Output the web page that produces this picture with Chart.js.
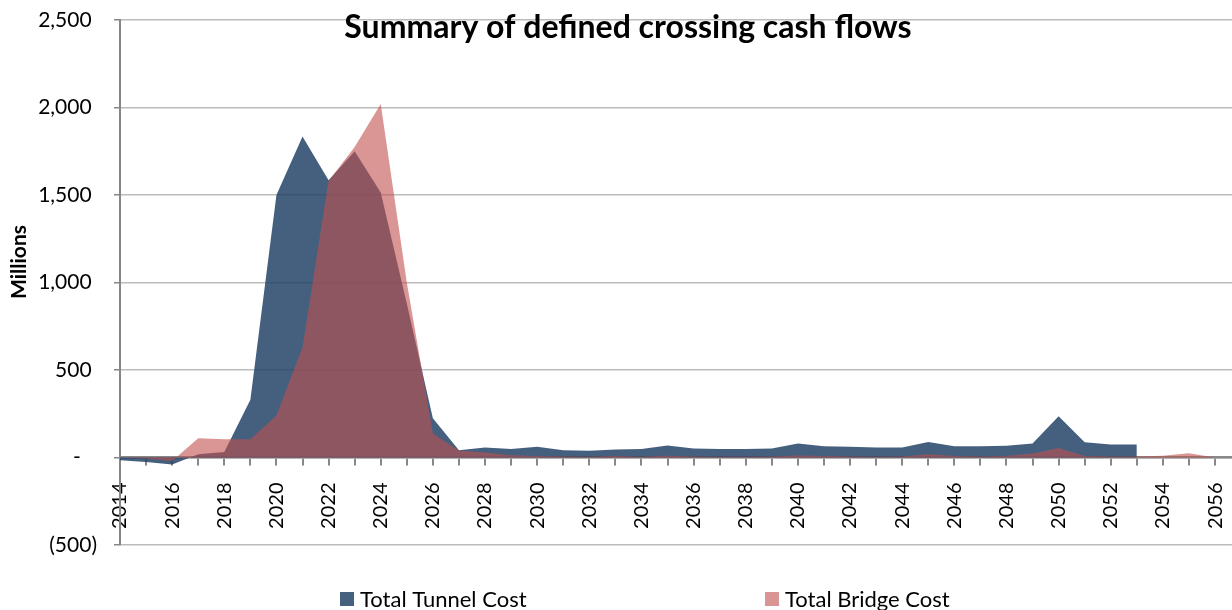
<!DOCTYPE html>
<html>
<head>
<meta charset="utf-8">
<script src="https://cdn.jsdelivr.net/npm/chart.js@4"></script>
<style>
  html, body { margin: 0; padding: 0; background: #fff; overflow: hidden; }
  #wrap { width: 1232px; height: 610px; }
</style>
</head>
<body>
<div id="wrap"><canvas id="myChart" width="1232" height="610"></canvas></div>
<script>
var years = [];
for (var y = 2014; y <= 2056; y++) { years.push(y); }

// Total Tunnel Cost, 2014 - 2053
var tunnelCost = [-15, -25, -40, 18, 32, 330, 1500, 1835, 1585, 1750,
  1515, 880, 225, 42, 57, 48, 61, 42, 38, 46,
  48, 68, 51, 49, 49, 51, 80, 65, 61, 57,
  57, 89, 65, 65, 67, 80, 236, 87, 74, 74];

// Total Bridge Cost, 2014 - 2056
var bridgeCost = [0, -5, -20, 110, 105, 105, 240, 630, 1580, 1775,
  2020, 1000, 137, 40, 28, 13, 9, 6, 5, 8,
  5, 10, 6, 5, 5, 6, 12, 8, 6, 5,
  6, 19, 8, 6, 8, 23, 55, 8, 6, 6,
  10, 25, 0];

var seriesNames = ['Total Tunnel Cost', 'Total Bridge Cost'];
var yTicks = [-500, 0, 500, 1000, 1500, 2000, 2500];

function toPoints(vals) {
  var pts = [];
  for (var i = 0; i < vals.length; i++) {
    pts.push({ x: years[i], y: vals[i] });
  }
  return pts;
}

function fmtMoney(v) {
  if (v == 0) return '-   ';
  if (v < 0) return '(' + (-v).toLocaleString('en-US') + ')';
  return v.toLocaleString('en-US') + ' ';
}

var blueFill = 'rgba(37,68,104,0.85)';
var pinkFill = 'rgba(192,80,77,0.6)';
var legendColors = ['#466080', '#d99594'];

var extraText = {
  id: 'extraText',
  afterDraw: function(chart) {
    var ctx = chart.ctx;
    ctx.save();
    ctx.fillStyle = '#000';
    // title
    ctx.font = 'bold 32px Lato';
    ctx.textAlign = 'center';
    ctx.textBaseline = 'middle';
    ctx.fillText('Summary of defined crossing cash flows', 628, 28);

    // y axis title
    ctx.save();
    ctx.translate(19, 262);
    ctx.rotate(-Math.PI / 2);
    ctx.font = 'bold 21px Lato';
    ctx.fillText('Millions', 0, 0);
    ctx.restore();

    // legend
    var lx = [340, 765];
    ctx.font = '22px Lato';
    ctx.textAlign = 'left';
    ctx.textBaseline = 'alphabetic';
    for (var i = 0; i < seriesNames.length; i++) {
      ctx.fillStyle = legendColors[i];
      ctx.fillRect(lx[i], 592, 14, 14);
      ctx.fillStyle = '#000';
      ctx.fillText(seriesNames[i], lx[i] + 20, 607);
    }
    ctx.restore();
  }
};

var ctx = document.getElementById('myChart').getContext('2d');
var myChart = new Chart(ctx, {
  type: 'line',
  data: {
    datasets: [{
      label: seriesNames[0],
      data: toPoints(tunnelCost),
      backgroundColor: blueFill,
      borderWidth: 0,
      pointRadius: 0,
      fill: 'origin',
      tension: 0,
      order: 1
    }, {
      label: seriesNames[1],
      data: toPoints(bridgeCost),
      backgroundColor: pinkFill,
      borderWidth: 0,
      pointRadius: 0,
      fill: 'origin',
      tension: 0,
      order: 0
    }]
  },
  options: {
    responsive: false,
    animation: false,
    layout: { padding: { top: 20, right: 0, bottom: 65, left: 0 } },
    plugins: {
      legend: { display: false },
      title: { display: false },
      tooltip: { enabled: false }
    },
    scales: {
      x: {
        type: 'linear',
        position: { y: 0 },
        min: 2014,
        max: 2056.65,
        afterFit: function(scale) {
          scale.paddingLeft = 0; scale.paddingRight = 0;
          scale.paddingTop = 0; scale.paddingBottom = 0;
        },
        border: { color: '#888888', width: 2.5 },
        grid: { drawOnChartArea: false, drawTicks: true, tickLength: 7, tickColor: '#888888', lineWidth: 2 },
        ticks: {
          stepSize: 1,
          autoSkip: false,
          includeBounds: false,
          minRotation: 90,
          maxRotation: 90,
          padding: 18,
          color: '#000',
          font: { family: 'Lato', size: 20 },
          callback: function(v) { return (v % 2 == 0) ? String(v) : ''; }
        }
      },
      y: {
        min: -500,
        max: 2500,
        afterFit: function(scale) {
          scale.width = 120;
          scale.paddingTop = 0; scale.paddingBottom = 0;
        },
        afterBuildTicks: function(scale) {
          scale.ticks = yTicks.map(function(v) { return { value: v }; });
        },
        border: { color: '#868686', width: 2 },
        grid: { color: '#bcbcbc', lineWidth: 1.5, tickLength: 6, tickColor: '#868686' },
        ticks: {
          padding: 17,
          color: '#000',
          font: { family: 'Lato', size: 21 },
          callback: function(v) { return fmtMoney(v); }
        }
      }
    }
  },
  plugins: [extraText]
});
</script>
</body>
</html>
